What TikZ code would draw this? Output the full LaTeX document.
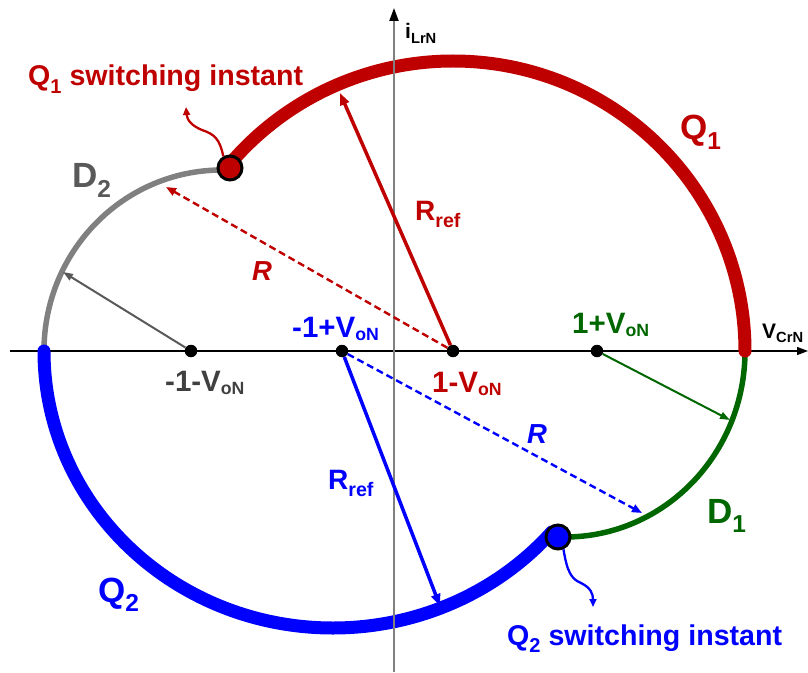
\documentclass[tikz,border=0pt]{standalone}
\usepackage{fontspec}
\setmainfont{Liberation Sans}
\usepackage{graphicx}
\usetikzlibrary{arrows.meta}
\definecolor{qred}{rgb}{0.75,0.0,0.0}
\definecolor{qblue}{rgb}{0.0,0.0,1.0}
\definecolor{dgreen}{rgb}{0.0,0.40,0.0}
\definecolor{arcgray}{rgb}{0.50,0.50,0.50}
\definecolor{lblgray}{rgb}{0.35,0.35,0.35}
\definecolor{txtgray}{rgb}{0.25,0.25,0.25}
\newcommand{\lsub}[2][0.26em]{\raisebox{-#1}{\scalebox{0.7}{#2}}}
\newcommand{\von}{V\raisebox{-0.13em}{\scalebox{0.6}{oN}}}
\tikzset{
  axisx/.style  ={draw=black, line width=1.3pt, -{Triangle[length=11pt,width=8pt]}},
  axisy/.style  ={draw=arcgray, line width=2pt, -{Triangle[length=13pt,width=9pt,color=black]}},
  qarc/.style   ={line width=13pt, line cap=round},                 % Q1 / Q2
  darc/.style   ={line width=5.5pt},                                % D1 / D2
  rref/.style   ={line width=3.5pt, -{Triangle[length=12pt,width=9pt]}},
  rdash/.style  ={line width=2.4pt, dash pattern=on 7pt off 4pt, -{Triangle[length=10pt,width=8pt]}},
  rthin/.style  ={line width=2pt, -{Triangle[length=10pt,width=7pt]}},
  squig/.style  ={line width=2.3pt, -{Triangle[length=8pt,width=7pt]}},
  cdot/.style   ={circle, fill=black, inner sep=0pt, minimum size=12.5pt},
  swdot/.style  ={circle, draw=black, line width=3pt, inner sep=0pt, minimum size=24pt},
  lbl/.style    ={inner sep=0pt, anchor=base west, font=\bfseries\fontsize{29.5}{34}\selectfont},
  biglbl/.style ={lbl, font=\bfseries\fontsize{35}{40}\selectfont},
  reflbl/.style ={lbl, font=\bfseries\fontsize{28}{32}\selectfont},
  rlbl/.style   ={lbl, font=\bfseries\itshape\fontsize{27.5}{30}\selectfont},
  swlbl/.style  ={lbl, font=\bfseries\fontsize{28.6}{32}\selectfont},
  axlbl/.style  ={lbl, font=\bfseries\fontsize{21}{24}\selectfont},
}

\begin{document}
\begin{tikzpicture}[x=1pt, y=1pt]
  \useasboundingbox (-394,-321) rectangle (414,351);

  % axes
  \coordinate (xl) at (-384,0);
  \coordinate (xr) at (414,0);
  \coordinate (yb) at (0,-321);
  \coordinate (yt) at (0,343);
  \draw[axisx] (xl) -- (xr);

  % trajectory
  \draw[darc, arcgray] (-350,0) arc[start angle=180, end angle=90, x radius=178pt, y radius=181pt];
  \draw[darc, dgreen]  (351,0) arc[start angle=0, end angle=-90, x radius=180pt, y radius=186pt];
  \draw[qarc, qred]    (351,0) arc[start angle=0, end angle=140.4, x radius=292pt, y radius=290pt];
  \draw[qarc, qblue]   (-350,0) arc[start angle=180, end angle=319.2, x radius=289pt, y radius=277pt];

  \draw[axisy] (yb) -- (yt);

  % centres
  \node[cdot] (cQ1) at (59,0) {};
  \node[cdot] (cQ2) at (-52,0) {};
  \node[cdot] (cD2) at (-203,0) {};
  \node[cdot] (cD1) at (203,0) {};

  \coordinate (tRQ1) at (-54,258);
  \coordinate (tRQ2) at (46,-255);
  \coordinate (tdQ1) at (-228,164);
  \coordinate (tdQ2) at (248,-162);
  \coordinate (tD2)  at (-331,79);
  \coordinate (tD1)  at (336,-69);
  \draw[rref, qred]     (cQ1) -- (tRQ1);
  \draw[rref, qblue]    (cQ2) -- (tRQ2);
  \draw[rdash, qred]    (cQ1) -- (tdQ1);
  \draw[rdash, qblue]   (cQ2) -- (tdQ2);
  \draw[rthin, lblgray] (cD2) -- (tD2);
  \draw[rthin, dgreen]  (cD1) -- (tD1);

  % switching instants
  \node[swdot, fill=qred]  (swQ1) at (-164,183) {};
  \node[swdot, fill=qblue] (swQ2) at (164,-186) {};
  \coordinate (sq1) at (-208,244);
  \coordinate (sq2) at (199,-256);
  \draw[squig, qred]  (swQ1.120) .. controls (-174,212) and (-180,217) .. (-192,221)
                                 .. controls (-202,225) and (-207,231) .. (sq1);
  \draw[squig, qblue] (swQ2.-66) .. controls (173,-220) and (177,-228) .. (187,-232)
                                 .. controls (197,-237) and (199,-243) .. (sq2);

  % labels
  \node[axlbl] (ylbl) at (11,312) {i\lsub[0.2em]{LrN}};
  \node[axlbl] (xlbl) at (368,13) {V\lsub[0.2em]{CrN}};
  \node[swlbl, qred]  (swtxt1) at (-366,265) {Q\lsub{1} switching instant};
  \node[swlbl, qblue] (swtxt2) at (113,-294) {Q\lsub{2} switching instant};
  \node[biglbl, qred]    (lQ1) at (286,211)   {Q\lsub{1}};
  \node[biglbl, qblue]   (lQ2) at (-296,-251) {Q\lsub{2}};
  \node[biglbl, dgreen]  (lD1) at (313,-172)  {D\lsub{1}};
  \node[biglbl, lblgray] (lD2) at (-322,163)  {D\lsub{2}};
  \node[reflbl, qred]  (lRQ1) at (21,131)   {R\lsub{ref}};
  \node[reflbl, qblue] (lRQ2) at (-66,-138) {R\lsub{ref}};
  \node[rlbl, qred]  (lrQ1) at (-142,71) {R};
  \node[rlbl, qblue] (lrQ2) at (133,-92) {R};
  \node[lbl, qblue]   (vcQ2) at (-102,14) {-1+\von};
  \node[lbl, qred]    (vcQ1) at (38,-41)  {1-\von};
  \node[lbl, txtgray] (vcD2) at (-229,-40) {-1-\von};
  \node[lbl, dgreen]  (vcD1) at (178,18)  {1+\von};
\end{tikzpicture}
\end{document}
